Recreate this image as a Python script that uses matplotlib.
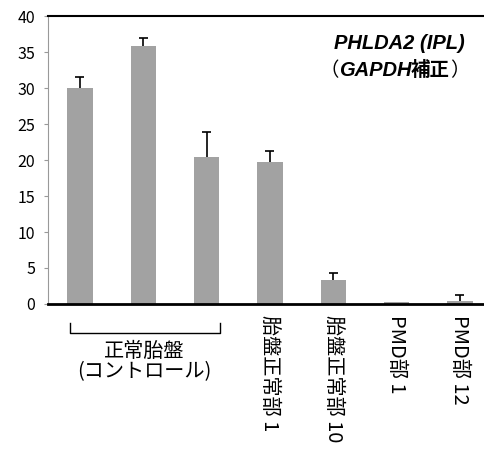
import matplotlib.pyplot as plt
import numpy as np

plt.rcParams['font.family'] = ['Noto Sans CJK JP', 'DejaVu Sans']

# データ
labels = ['', '', '', '胎盤正常部 1', '胎盤正常部 10', 'PMD部 1', 'PMD部 12']
values = [30.0, 35.8, 20.4, 19.7, 3.3, 0.25, 0.4]
errors = [1.6, 1.2, 3.5, 1.6, 1.0, 0.0, 0.9]
yticks = [0, 5, 10, 15, 20, 25, 30, 35, 40]

fig = plt.figure(figsize=(4.84, 4.49), dpi=100)
ax = fig.add_axes([0.099, 0.323, 0.901, 0.641])

x = np.arange(len(values))
vals = np.array(values)
errs = np.array(errors)
ax.bar(x, vals, width=0.4, color='#a2a2a2', zorder=2)

# 上側だけのエラーバー
has_err = errs > 0
tops = vals + errs
ax.vlines(x[has_err], vals[has_err], tops[has_err], color='black', lw=1.2, zorder=3)
ax.hlines(tops[has_err], x[has_err] - 0.07, x[has_err] + 0.07, color='black',
          lw=1.2, zorder=3)

ax.set_xlim(-0.505, 6.38)
ax.set_ylim(0, 40)
ax.set_yticks(yticks)
ax.tick_params(axis='y', labelsize=11.5, length=3, color='#999999', pad=6)
ax.set_xticks([])

ax.spines['right'].set_visible(False)
ax.spines['left'].set_color('#999999')
ax.spines['left'].set_linewidth(0.8)
ax.spines['bottom'].set_linewidth(2)
ax.spines['top'].set_linewidth(1.5)

# 縦書きラベル
for xi, lab in zip(x[3:], labels[3:]):
    ax.text(xi, -1.5, lab, rotation=270, ha='center', va='top',
            fontsize=14.5, clip_on=False)

# コントロールの括弧
bx = [-0.16, -0.16, 2.21, 2.21]
by = [-2.6, -4.0, -4.0, -2.6]
ax.plot(bx, by, color='black', lw=1, clip_on=False)
ax.text(1.02, -5.2, '正常胎盤\n(コントロール)', ha='center', va='top',
        fontsize=14.5, linespacing=0.95, clip_on=False)

# タイトル
t1 = ax.text(0.955, 0.905, 'PHLDA2 (IPL)', transform=ax.transAxes,
             ha='right', va='center', fontsize=14.5, fontweight='bold',
             fontstyle='italic', family=['Liberation Sans'])
p2 = ax.text(0.967, 0.812, '）', transform=ax.transAxes, ha='right',
             va='center', fontsize=14)
p1 = ax.annotate('補正', xy=(0, 0.5), xycoords=p2, ha='right', va='center',
                 fontsize=14, fontweight='bold')
p0 = ax.annotate('GAPDH', xy=(0, 0.5), xycoords=p1, ha='right', va='center',
                 fontsize=14.5, fontweight='bold', fontstyle='italic',
                 family=['Liberation Sans'])
ax.annotate('（', xy=(0, 0.5), xycoords=p0, ha='right', va='center',
            fontsize=14)

plt.savefig('out.png', dpi=100)
